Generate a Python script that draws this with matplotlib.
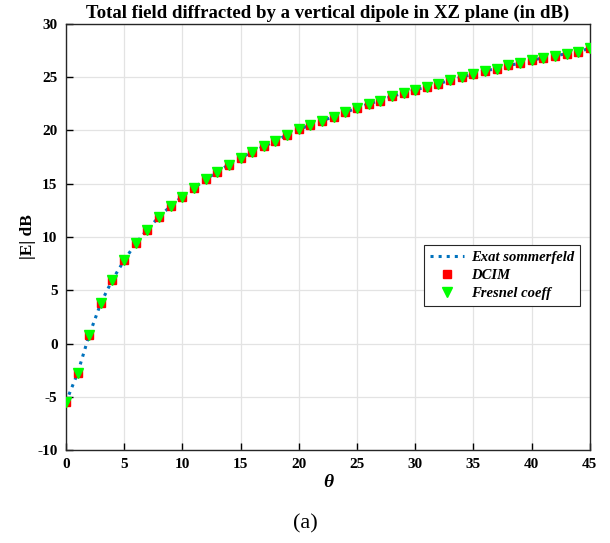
import matplotlib
matplotlib.use("Agg")
import matplotlib.pyplot as plt

# values (dB vs theta in degrees)
theta = list(range(0, 46))
exact_db = [-5.5, -2.8, 0.8, 3.8, 6.0, 7.8, 9.4, 10.7, 11.9, 12.9,
            13.8, 14.6, 15.4, 16.1, 16.8, 17.4, 18.0, 18.5, 19.0, 19.6,
            20.1, 20.5, 20.9, 21.3, 21.7, 22.1, 22.5, 22.8, 23.2, 23.5,
            23.8, 24.1, 24.4, 24.7, 25.0, 25.3, 25.6, 25.8, 26.1, 26.3,
            26.6, 26.8, 27.0, 27.2, 27.4, 27.7]
dcim_db = exact_db
fresnel_db = exact_db

x_ticks = [0, 5, 10, 15, 20, 25, 30, 35, 40, 45]
y_ticks = [-10, -5, 0, 5, 10, 15, 20, 25, 30]

plt.rcParams["font.family"] = ["Liberation Serif", "DejaVu Serif"]
plt.rcParams["axes.unicode_minus"] = False

fig = plt.figure(figsize=(6.1, 5.43), dpi=100)
ax = fig.add_axes([0.108, 0.171, 0.859, 0.785])

ax.plot(theta, exact_db, linestyle=":", color="#0072BD", linewidth=2.2,
        label="Exat sommerfeld", zorder=2)
ax.plot(theta, dcim_db, linestyle="none", marker="s", color="red",
        markersize=6.2, label="DCIM", zorder=3)
ax.plot(theta, fresnel_db, linestyle="none", marker="v", color="#00FF00",
        markersize=7, label="Fresnel coeff", zorder=4)

ax.set_xlim(0, 45)
ax.set_ylim(-10, 30)
ax.set_xticks(x_ticks)
ax.set_xticklabels([str(v) for v in x_ticks], fontweight="bold", fontsize=11)
ax.set_yticks(y_ticks)
ax.set_yticklabels([str(v) for v in y_ticks], fontweight="bold", fontsize=11)
ax.grid(True, color="#e3e3e3", linewidth=0.9)
ax.set_axisbelow(True)
ax.tick_params(direction="in", length=5, width=1, top=False, right=False,
               pad=6)
for sp in ax.spines.values():
    sp.set_linewidth(1.0)
    sp.set_color("#262626")

ax.set_title("Total field diffracted by a vertical dipole in XZ plane (in dB)",
             fontsize=13.5, fontweight="bold", pad=4)
ax.set_xlabel("θ", fontsize=14, fontweight="bold", style="italic", labelpad=2)
ax.set_ylabel("|E| dB", fontsize=12.5, fontweight="bold", labelpad=1)

leg = ax.legend(loc="center right", bbox_to_anchor=(0.995, 0.41),
                prop={"weight": "bold", "style": "italic", "size": 10.5},
                fancybox=False, edgecolor="#262626", framealpha=1,
                handlelength=2.3, handletextpad=0.5, borderpad=0.4,
                labelspacing=0.35)
leg.get_frame().set_linewidth(0.8)

fig.text(0.5, 0.035, "(a)", ha="center", va="center", fontsize=16)

fig.savefig("out.png", dpi=100)
